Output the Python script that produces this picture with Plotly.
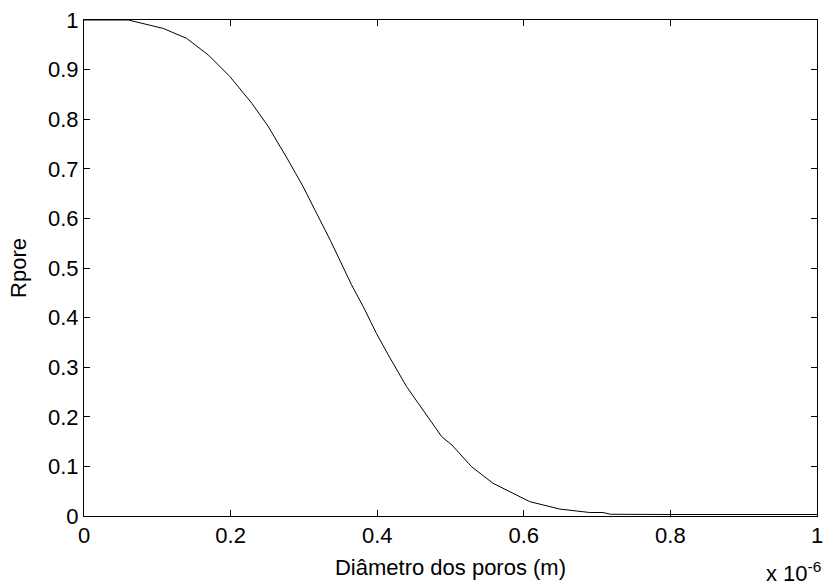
import plotly.graph_objects as go

diam = [0.0, 0.03, 0.0605, 0.108, 0.140, 0.170, 0.199, 0.229, 0.240, 0.251, 0.276, 0.299,
        0.315, 0.336, 0.365, 0.381, 0.399, 0.415, 0.440, 0.467, 0.488, 0.502, 0.529,
        0.558, 0.580, 0.608, 0.649, 0.672, 0.690, 0.708, 0.718, 0.80, 0.90, 1.0]
rpore = [1.0, 1.0, 1.0, 0.983, 0.963, 0.929, 0.886, 0.832, 0.808, 0.786, 0.724, 0.664,
         0.617, 0.556, 0.466, 0.422, 0.368, 0.325, 0.261, 0.204, 0.160, 0.143, 0.099,
         0.066, 0.050, 0.029, 0.014, 0.010, 0.007, 0.007, 0.0035, 0.003, 0.003, 0.003]

xticks = [0, 0.2, 0.4, 0.6, 0.8, 1]
yticks = [0, 0.1, 0.2, 0.3, 0.4, 0.5, 0.6, 0.7, 0.8, 0.9, 1]
font = "Liberation Sans, Arial, sans-serif"
FS = 22

fig = go.Figure()
fig.add_trace(go.Scatter(x=diam, y=rpore, mode="lines",
                         line=dict(color="black", width=1), showlegend=False))

axis_common = dict(showline=True, linecolor="black", linewidth=1, mirror="ticks",
                   ticks="inside", ticklen=6, tickcolor="black", showgrid=False,
                   zeroline=False, automargin=False,
                   tickfont=dict(family=font, size=FS, color="black"))

fig.update_xaxes(range=[0, 1], tickvals=xticks, ticktext=[f"{v:g}" for v in xticks],
                 title=dict(text="Diâmetro dos poros (m)", font=dict(family=font, size=FS, color="black"),
                            standoff=12),
                 **axis_common)
fig.update_yaxes(range=[0, 1], tickvals=yticks, ticktext=[f"{v:g}" for v in yticks],
                 title=dict(text="Rpore", font=dict(family=font, size=FS, color="black"),
                            standoff=15),
                 **axis_common)

fig.add_annotation(text="x 10<sup>-6</sup>", x=1, y=0, xref="paper", yref="paper",
                   xanchor="right", yanchor="bottom", yshift=-72, xshift=6, showarrow=False,
                   font=dict(family=font, size=FS, color="black"))

fig.update_layout(width=824, height=587, margin=dict(l=84, r=7, t=20, b=71),
                  plot_bgcolor="white", paper_bgcolor="white")
fig.write_html("out.html")
